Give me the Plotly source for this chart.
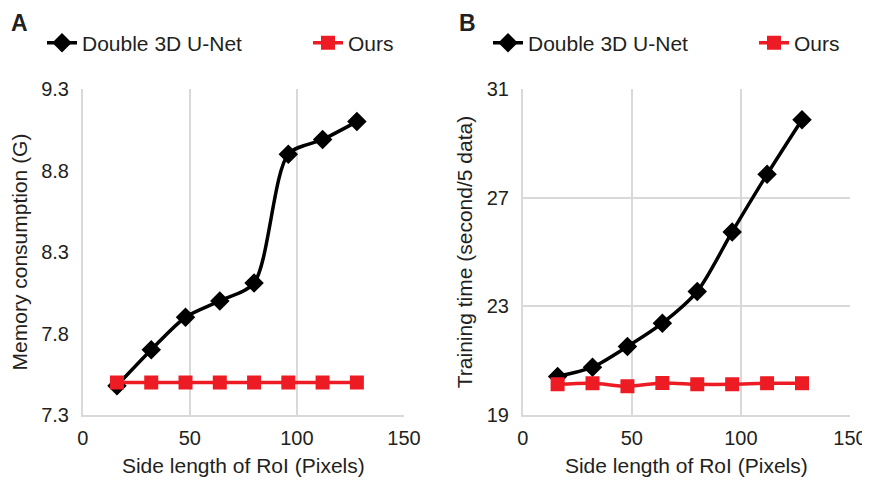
import plotly.graph_objects as go

side_len = [16, 32, 48, 64, 80, 96, 112, 128]
mem_unet = [7.48, 7.70, 7.90, 8.00, 8.11, 8.90, 8.99, 9.10]
mem_ours = [7.50, 7.50, 7.50, 7.50, 7.50, 7.50, 7.50, 7.50]
time_unet = [20.42, 20.76, 21.52, 22.38, 23.55, 25.74, 27.86, 29.87]
time_ours = [20.13, 20.17, 20.06, 20.18, 20.13, 20.13, 20.17, 20.17]

x_ticks = [0, 50, 100, 150]
mem_ticks = [7.3, 7.8, 8.3, 8.8, 9.3]
time_ticks = [19, 23, 27, 31]

FONT = "Liberation Sans, Arial, Helvetica, sans-serif"
BLACK = "#000000"
RED = "#ed1c24"
GRID = "#d9d9d9"
TXT = "#231f20"

fig = go.Figure()

def add_pair(xa, ya, y1, y2, legend):
    fig.add_trace(go.Scatter(x=side_len, y=y1, mode="lines+markers", name="Double 3D U-Net",
                             line=dict(color=BLACK, width=3.5, shape="spline", smoothing=0.8),
                             marker=dict(symbol="diamond", size=15, color=BLACK),
                             xaxis=xa, yaxis=ya, legend=legend))
    fig.add_trace(go.Scatter(x=side_len, y=y2, mode="lines+markers", name="Ours",
                             line=dict(color=RED, width=3.5, shape="spline", smoothing=0.8),
                             marker=dict(symbol="square", size=14, color=RED),
                             xaxis=xa, yaxis=ya, legend=legend))

add_pair("x", "y", mem_unet, mem_ours, "legend")
add_pair("x2", "y2", time_unet, time_ours, "legend2")

# page has an 8px body margin: figure occupies page pixels 8..870 horizontally
OFF = 8
W, H = 870 - OFF, 487 - 2 * OFF
def fx(px): return (px - OFF) / W
def fy(py): return 1 - (py - OFF) / H

axis_common = dict(showline=True, linecolor=GRID, linewidth=1.5, gridcolor=GRID, gridwidth=1.5,
                   zeroline=False, tickfont=dict(family=FONT, size=20, color=TXT),
                   title_font=dict(family=FONT, size=21, color=TXT), ticks="",
                   automargin=False, ticklabeloverflow="allow")

legend_common = dict(orientation="h", xanchor="left", yanchor="middle", entrywidth=221,
                     font=dict(family=FONT, size=21, color=TXT), bgcolor="rgba(0,0,0,0)")

fig.update_layout(
    width=W, height=H,
    margin=dict(l=0, r=0, t=0, b=0, autoexpand=False),
    paper_bgcolor="white", plot_bgcolor="white",
    font=dict(family=FONT, color=TXT),
    xaxis=dict(domain=[fx(82.7), fx(404)], range=[0, 150], tickvals=x_ticks, showgrid=True,
               ticklabelstandoff=4,
               title=dict(text="Side length of RoI (Pixels)", standoff=11), anchor="y", **axis_common),
    yaxis=dict(domain=[fy(415), fy(89)], range=[7.3, 9.3], tickvals=mem_ticks, showgrid=False,
               tickformat=".1f", ticklabelstandoff=8,
               title=dict(text="Memory consumption (G)", standoff=12), anchor="x", **axis_common),
    xaxis2=dict(domain=[fx(522.7), fx(850)], range=[0, 150], tickvals=x_ticks, showgrid=True,
                ticklabelstandoff=4,
                title=dict(text="Side length of RoI (Pixels)", standoff=11), anchor="y2", **axis_common),
    yaxis2=dict(domain=[fy(415), fy(89)], range=[19, 31], tickvals=time_ticks, showgrid=True,
                ticklabelstandoff=8,
                title=dict(text="Training time (second/5 data)", standoff=8), anchor="x2", **axis_common),
    legend=dict(x=fx(42), y=fy(43), **legend_common),
    legend2=dict(x=fx(488), y=fy(43), **legend_common),
    annotations=[
        dict(text="<b>A</b>", x=fx(9), y=1, xref="paper", yref="paper", showarrow=False,
             xanchor="left", yanchor="top", font=dict(family=FONT, size=23, color=TXT)),
        dict(text="<b>B</b>", x=fx(457), y=1, xref="paper", yref="paper", showarrow=False,
             xanchor="left", yanchor="top", font=dict(family=FONT, size=23, color=TXT)),
    ],
)

fig.write_html("out.html")
